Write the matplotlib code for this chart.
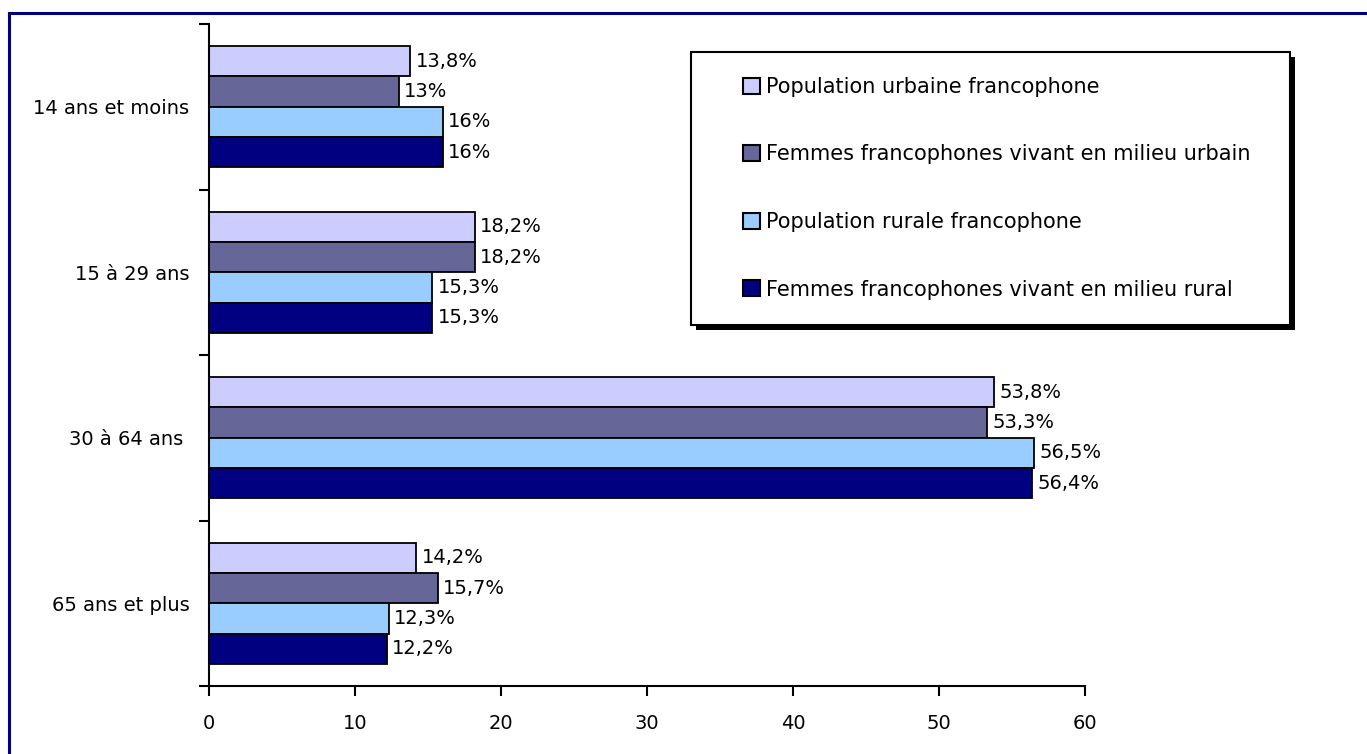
import numpy as np
import matplotlib.pyplot as plt
from matplotlib.lines import Line2D
from matplotlib.patches import Rectangle

plt.rcParams['font.family'] = ['DejaVu Sans']

categories = ['14 ans et moins', '15 à 29 ans', '30 à 64 ans ', '65 ans et plus']
series_names = ['Population urbaine francophone',
                'Femmes francophones vivant en milieu urbain',
                'Population rurale francophone',
                'Femmes francophones vivant en milieu rural']
urbaine = [13.8, 18.2, 53.8, 14.2]
femmes_urbain = [13.0, 18.2, 53.3, 15.7]
rurale = [16.0, 15.3, 56.5, 12.3]
femmes_rural = [16.0, 15.3, 56.4, 12.2]
colors = ['#CCCCFF', '#666699', '#99CCFF', '#000080']

data = [urbaine, femmes_urbain, rurale, femmes_rural]

W, H = 1367, 754
fig = plt.figure(figsize=(W / 100, H / 100), dpi=100)
ax = fig.add_axes([209 / W, 1 - 686 / H, (1085 - 209) / W, (686 - 24) / H])

# outer navy frame (left and top visible only)
fig.add_artist(Line2D([9 / W, 9 / W], [0, 1 - 13 / H], transform=fig.transFigure,
                      color='#000080', lw=2.2))
fig.add_artist(Line2D([9 / W, 1.0], [1 - 13 / H, 1 - 13 / H], transform=fig.transFigure,
                      color='#000080', lw=2.2))

y = np.arange(len(categories))
h = 0.183
for i, (vals, col, name) in enumerate(zip(data, colors, series_names)):
    ax.barh(y + (i - 1.5) * h, vals, height=h, color=col, edgecolor='black',
            linewidth=1.3, label=name)
    for yy, v in zip(y + (i - 1.5) * h, vals):
        txt = f"{v:g}".replace('.', ',') + '%'
        ax.text(v + 0.35, yy, txt, va='center', ha='left', fontsize=14)

ax.set_xlim(0, 60)
ax.set_ylim(3.5, -0.5)
ax.set_xticks(range(0, 61, 10))
ax.tick_params(axis='x', direction='out', length=7, width=1.5, labelsize=14, pad=13)

ax.set_yticks(np.arange(-0.5, 4, 1))
ax.set_yticklabels([])
ax.tick_params(axis='y', which='major', direction='out', length=7, width=1.5)
ax.set_yticks(y, minor=True)
ax.set_yticklabels(categories, minor=True, fontsize=14)
ax.tick_params(axis='y', which='minor', length=0, pad=14)

for s in ['top', 'right']:
    ax.spines[s].set_visible(False)
for s in ['left', 'bottom']:
    ax.spines[s].set_linewidth(1.5)

# legend box with black shadow
bx0, by0, bx1, by1 = 691, 52, 1290, 325
fig.add_artist(Rectangle(((bx0 + 5) / W, 1 - (by1 + 5) / H), (bx1 - bx0) / W, (by1 - by0) / H,
                         transform=fig.transFigure, facecolor='black', edgecolor='none', zorder=3))
fig.add_artist(Rectangle((bx0 / W, 1 - by1 / H), (bx1 - bx0) / W, (by1 - by0) / H,
                         transform=fig.transFigure, facecolor='white', edgecolor='black',
                         linewidth=1.5, zorder=4))

handles, labels = ax.get_legend_handles_labels()
leg = fig.legend(handles, labels, loc='upper left', bbox_to_anchor=(743 / W, 1 - 77 / H),
                 bbox_transform=fig.transFigure, fontsize=15, frameon=False,
                 borderpad=0, labelspacing=2.28, handlelength=0.8, handleheight=0.8,
                 handletextpad=0.3, borderaxespad=0)
leg.set_zorder(5)
for p in leg.get_patches():
    p.set_linewidth(1.5)

fig.savefig('out.png', dpi=100)
